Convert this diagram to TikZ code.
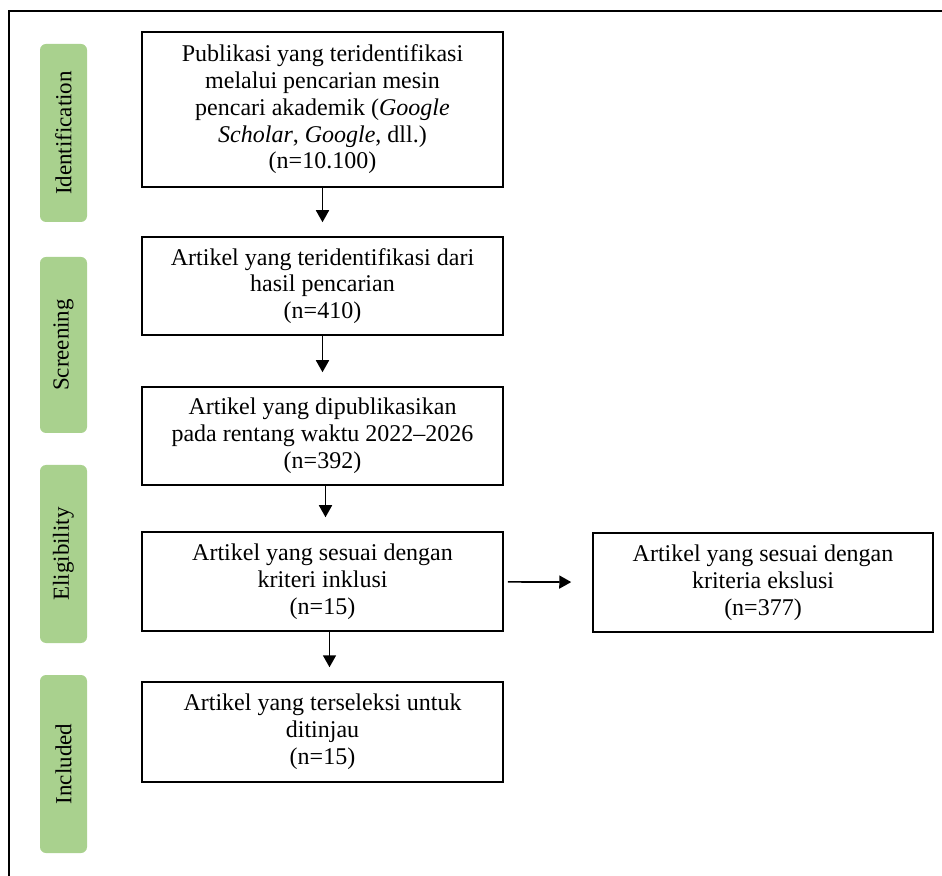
\documentclass[tikz,border=0pt]{standalone}
\usepackage{fontspec}
\setmainfont{Liberation Serif}
\usepackage{tikz}
\usetikzlibrary{arrows.meta}
\definecolor{phasegreen}{RGB}{169,209,142}
\tikzset{
	flowbox/.style={draw, line width=0.75pt, align=center, minimum width=180.5pt, font=\fontsize{12}{13.4}\selectfont},
	phase/.style={fill=phasegreen, rounded corners=3pt, rotate=90, minimum width=89pt, minimum height=23.5pt, font=\fontsize{11.5}{13}\selectfont},
	flowarrow/.style={-{Triangle[length=6pt,width=6.5pt]}, line width=0.8pt, shorten >=7pt}
}

\begin{document}
\begin{tikzpicture}[x=0.5pt,y=-0.5pt]
	\useasboundingbox (0, 0) rectangle (942, 876);
	\draw [line width=1pt] (9, 876) -- (9, 11) -- (942, 11);

	% phases
	\node [phase] (ident) at (63.5, 133) {Identification};
	\node [phase, minimum width=88pt] (screen) at (63.5, 345) {Screening};
	\node [phase] (elig) at (63.5, 554) {Eligibility};
	\node [phase] (incl) at (63.5, 764) {Included};

	% boxes
	\node [flowbox, minimum height=77.5pt] (pub) at (322.5, 109.5) {Publikasi yang teridentifikasi\\ melalui pencarian mesin\\ pencari akademik (\textit{Google}\\ \textit{Scholar}, \textit{Google}, dll.)\\ (n=10.100)};
	\node [flowbox, minimum height=49pt] (hasil) at (322.5, 286) {Artikel yang teridentifikasi dari\\ hasil pencarian\\ (n=410)};
	\node [flowbox, minimum height=49pt] (waktu) at (322.5, 436) {Artikel yang dipublikasikan\\ pada rentang waktu 2022–2026\\ (n=392)};
	\node [flowbox, minimum height=49.5pt] (inklusi) at (322.5, 581.5) {Artikel yang sesuai dengan\\ kriteri inklusi\\ (n=15)};
	\node [flowbox, minimum width=170pt, minimum height=49.5pt] (ekslusi) at (763, 582.5) {Artikel yang sesuai dengan\\ kriteria ekslusi\\ (n=377)};
	\node [flowbox, minimum height=50pt] (tinjau) at (322.5, 732) {Artikel yang terseleksi untuk\\ ditinjau\\ (n=15)};

	\draw [flowarrow] (pub) -- (hasil);
	\draw [flowarrow] (hasil) -- (waktu);
	\draw [flowarrow] ([xshift=1.5pt]waktu.south) -- ([xshift=1.5pt]inklusi.north);
	\draw [flowarrow] ([xshift=3.5pt]inklusi.south) -- ([xshift=3.5pt]tinjau.north);
	\draw [flowarrow, shorten <=2pt, shorten >=10.5pt] (inklusi) -- (ekslusi);
\end{tikzpicture}
\end{document}
